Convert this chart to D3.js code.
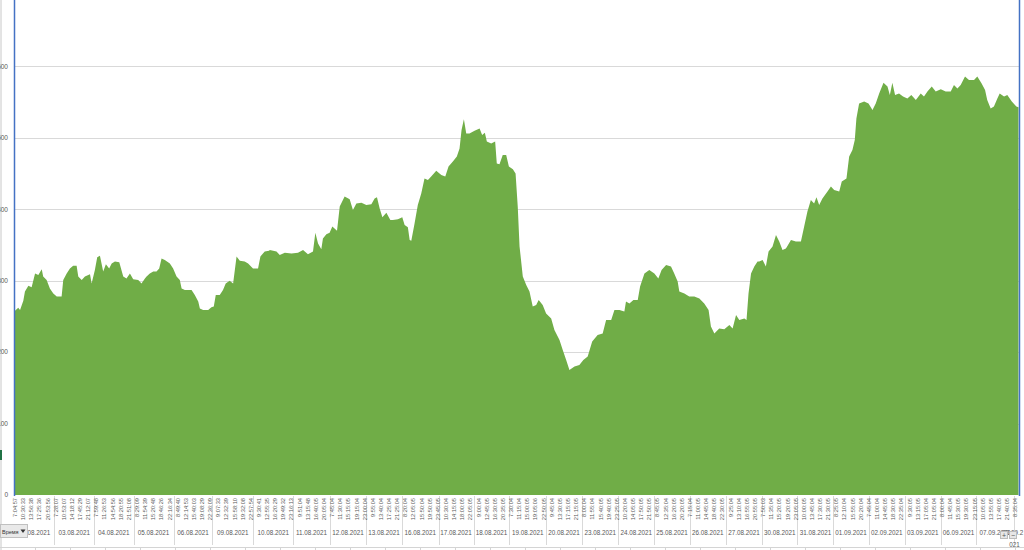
<!DOCTYPE html>
<html>
<head>
<meta charset="utf-8">
<script src="https://cdn.jsdelivr.net/npm/d3@7/dist/d3.min.js"></script>
<style>
  html, body { margin: 0; padding: 0; background: #fff; }
  svg { display: block; font-family: "Liberation Sans", Arial, sans-serif; }
</style>
</head>
<body>
<svg id="chart" width="1024" height="550"></svg>
<script>
// ---------------- DATA ----------------
const dates = ["02.08.2021","03.08.2021","04.08.2021","05.08.2021","06.08.2021","09.08.2021","10.08.2021",
  "11.08.2021","12.08.2021","13.08.2021","16.08.2021","17.08.2021","18.08.2021","19.08.2021","20.08.2021",
  "23.08.2021","24.08.2021","25.08.2021","26.08.2021","27.08.2021","30.08.2021","31.08.2021","01.09.2021",
  "02.09.2021","03.09.2021","06.09.2021","07.09.2021","08.09.2021"];
// observation number at which each day starts
const dayStart = [0,217,438,656,878,1091,1318,1539,1742,1944,2141,2344,2538,2736,2939,3138,3339,3538,3733,
  3934,4133,4330,4529,4723,4924,5123,5320,5528];
const lastObs = 5553;
const tickStep = 45; // a time label every 45 observations
const timeLabels = [
  "7:04:57","10:30:33","13:56:38","17:25:36","20:53:56",
  "7:28:07","10:53:07","14:18:12","17:45:29","21:12:07",
  "7:59:48","11:26:53","14:54:56","18:20:55","21:51:08",
  "8:29:09","11:54:39","15:20:48","18:46:26","22:16:34",
  "8:49:40","12:14:53","15:40:03","19:08:29","22:36:09",
  "9:07:33","12:32:39","15:58:10","19:32:08","22:57:54",
  "9:30:41","12:55:35","16:20:29","19:49:32","23:16:13",
  "9:51:04","13:15:48","16:40:05","20:05:04",
  "7:45:04","11:30:04","15:15:05","19:15:04","23:00:04",
  "9:55:04","13:40:04","17:25:04","21:25:04",
  "8:20:04","12:05:05","15:50:04","19:50:05","23:45:05",
  "10:30:04","14:15:05","18:00:05","22:05:05",
  "9:00:04","12:45:05","16:30:05","20:35:05",
  "7:30:04","11:15:04","15:00:05","19:05:06","22:50:05",
  "9:45:04","13:30:05","17:15:05","21:15:05",
  "8:00:04","11:55:04","15:40:05","19:40:05","23:25:05",
  "10:20:04","14:05:05","17:50:05","21:50:05",
  "8:45:05","12:35:04","16:20:05","20:20:05",
  "7:15:04","11:00:05","14:45:04","18:40:05","22:30:05",
  "9:25:04","13:10:04","16:55:05","20:55:05",
  "7:50:03","11:35:04","15:20:05","19:20:05","23:05:05",
  "10:00:05","13:45:04","17:30:05","21:30:05",
  "8:25:05","12:10:04","15:55:05","20:20:04",
  "7:45:04","11:00:04","14:45:05","18:30:05","22:35:04",
  "9:30:05","13:15:05","17:05:04","21:05:04",
  "8:00:04","11:45:04","15:30:05","19:30:05","23:15:05",
  "10:05:05","13:55:05","17:40:05","21:40:05",
  "8:35:04"
];
const yTicks = [0,100,200,300,400,500,600];
const yMax = 700;

const obsIndex = [
  0,18,28,46,55,74,92,111,129,148,156,175,193,212,231,258,267,286,304,322,341,350,369,387,415,424,442,455,470,488,
  503,521,535,553,577,599,617,636,654,682,700,719,728,746,765,783,798,811,829,857,875,894,912,922,940,958,977,995,1014,1023,
  1041,1069,1087,1100,1111,1133,1151,1166,1188,1207,1226,1244,1271,1290,1317,1345,1358,1382,1406,1410,1447,1465,1493,1530,1566,1594,1621,1649,1662,1677,
  1695,1704,1723,1741,1756,1782,1797,1824,1852,1870,1889,1917,1944,1972,1990,2003,2018,2033,2055,2077,2091,2119,2143,2156,2174,2184,2193,2211,2229,2248,
  2266,2285,2303,2331,2359,2381,2399,2423,2445,2460,2471,2484,2497,2515,2543,2571,2585,2600,2611,2635,2657,2666,2681,2699,2718,2733,2755,2770,2782,2792,
  2810,2829,2847,2865,2884,2898,2920,2939,2967,2985,3013,3031,3050,3068,3096,3123,3145,3169,3194,3224,3252,3271,3299,3317,3345,3372,3381,3400,3422,3446,
  3459,3483,3510,3538,3560,3578,3603,3630,3648,3667,3676,3704,3731,3759,3787,3814,3838,3851,3870,3897,3925,3953,3971,3990,4008,4036,4048,4059,4073,4091,
  4109,4118,4137,4155,4170,4192,4211,4229,4247,4266,4294,4321,4349,4367,4385,4404,4422,4435,4450,4468,4496,4515,4533,4561,4575,4601,4616,4634,4647,4656,
  4671,4699,4723,4745,4763,4782,4806,4828,4841,4855,4870,4892,4914,4938,4960,4985,5012,5030,5049,5073,5095,5123,5150,5178,5196,5215,5233,5257,5279,5307,
  5325,5349,5368,5380,5399,5417,5436,5449,5473,5491,5516,5541,5553
];
const price = [
  258,262,259,272,285,293,291,310,308,316,306,301,289,282,278,278,301,310,317,321,321,306,301,306,309,296,315,333,335,313,
  323,317,324,327,326,306,303,310,302,301,296,303,306,310,313,313,317,331,329,324,317,306,301,289,287,287,287,280,271,261,
  259,259,263,264,280,280,287,296,300,296,334,328,327,324,317,317,334,341,342,343,341,336,339,338,339,343,337,341,367,352,
  344,359,365,367,376,370,404,418,414,399,408,409,406,407,415,417,401,389,395,385,385,386,389,378,375,357,356,380,406,422,
  443,441,446,454,448,446,460,467,474,485,511,526,506,506,510,513,504,507,495,492,495,464,463,476,476,460,456,450,404,348,
  306,294,285,264,266,273,266,254,247,231,217,203,189,175,180,182,189,194,215,224,226,245,245,259,259,257,271,268,273,273,
  292,310,315,310,303,315,322,320,310,299,285,282,278,278,275,268,259,236,226,233,232,238,233,252,245,247,245,282,310,320,
  327,327,329,320,341,348,364,355,343,345,357,355,355,376,397,413,408,417,406,415,425,432,427,425,439,443,474,483,497,527,
  548,551,548,539,548,562,577,572,560,577,560,562,558,555,560,553,562,558,565,572,565,568,565,565,574,569,574,586,581,581,
  586,576,567,553,541,544,555,562,558,560,551,544,543
];

// ---------------- CHART ----------------
const svg = d3.select("#chart");
const W = 1024, H = 550;
const plotL = 15, plotR = 1018.5, plotB = 495, plotT = -5;
const green = "#70AD47", grid = "#d9d9d9", txt = "#595959", blue = "#4472C4";

const x = d3.scaleLinear().domain([0, lastObs]).range([plotL, plotR]);
const y = d3.scaleLinear().domain([0, yMax]).range([plotB, plotT]);

// chart border line at left
svg.append("line").attr("x1", 1).attr("x2", 1).attr("y1", 0).attr("y2", H)
  .attr("stroke", "#c8c8c8").attr("stroke-width", 1);
svg.append("rect").attr("x", 0).attr("y", 450).attr("width", 2).attr("height", 10).attr("fill", "#217346");

// gridlines
svg.append("g").selectAll("line").data(yTicks.filter(d => d > 0)).join("line")
  .attr("x1", plotL - 1).attr("x2", plotR + 1)
  .attr("y1", d => Math.round(y(d)) + 0.5).attr("y2", d => Math.round(y(d)) + 0.5)
  .attr("stroke", grid).attr("stroke-width", 1);

// y labels (clipped by page edge)
svg.append("g").selectAll("text").data(yTicks).join("text")
  .attr("x", 8).attr("y", d => y(d)).attr("dy", "0.35em")
  .attr("text-anchor", "end").attr("font-size", 6.5).attr("fill", txt)
  .text(d => d);

// area
const series = obsIndex.map((o, i) => ({ o, v: price[i] }));
const area = d3.area().x(d => x(d.o)).y0(y(0)).y1(d => y(d.v)).curve(d3.curveLinear);
svg.append("path").datum(series).attr("d", area).attr("fill", green);

// blue vertical lines at plot edges
svg.append("line").attr("x1", plotL - 0.5).attr("x2", plotL - 0.5).attr("y1", 0).attr("y2", plotB + 1)
  .attr("stroke", blue).attr("stroke-width", 1.5);
svg.append("line").attr("x1", plotR + 1).attr("x2", plotR + 1).attr("y1", 0).attr("y2", plotB + 1)
  .attr("stroke", blue).attr("stroke-width", 1.5);

// day separators
svg.append("g").selectAll("line").data(dayStart.slice(1)).join("line")
  .attr("x1", d => Math.round(x(d)) + 0.5).attr("x2", d => Math.round(x(d)) + 0.5)
  .attr("y1", plotB + 1).attr("y2", 545)
  .attr("stroke", grid).attr("stroke-width", 1);

// time labels
svg.append("g").selectAll("text").data(timeLabels).join("text")
  .attr("transform", (d, i) => `translate(${x(i * tickStep)},${plotB + 3}) rotate(-90)`)
  .attr("text-anchor", "end").attr("dy", "0.35em")
  .attr("font-size", 5.7).attr("fill", txt)
  .text(d => d);

// date labels
const dayEnd = dayStart.slice(1).concat([lastObs]);
const dateG = svg.append("g");
dates.forEach((d, i) => {
  const mid = (dayStart[i] + dayEnd[i]) / 2;
  if (i < dates.length - 1) {
    dateG.append("text").attr("x", x(mid)).attr("y", 535)
      .attr("text-anchor", "middle").attr("font-size", 6.3).attr("fill", txt).text(d);
  } else {
    const t = dateG.append("text").attr("font-size", 6.3).attr("fill", txt);
    t.append("tspan").attr("x", x(mid) - 14).attr("y", 535).text(d.slice(0, 7));
    t.append("tspan").attr("x", x(mid) - 7).attr("y", 547).text(d.slice(7));
  }
});

// spreadsheet line below chart
svg.append("line").attr("x1", 0).attr("x2", W).attr("y1", 547.5).attr("y2", 547.5)
  .attr("stroke", "#d4d4d4").attr("stroke-width", 1);
svg.append("g").selectAll("line").data(d3.range(35, W, 35)).join("line")
  .attr("x1", d => d + 0.5).attr("x2", d => d + 0.5).attr("y1", 547).attr("y2", 550)
  .attr("stroke", "#d4d4d4");

// "Время" field button
const btn = svg.append("g");
btn.append("rect").attr("x", 0.5).attr("y", 524.5).attr("width", 27).attr("height", 13)
  .attr("fill", "#e9e9e9").attr("stroke", "#c0c0c0");
btn.append("text").attr("x", 2).attr("y", 533.5).attr("font-size", 5.5).attr("fill", "#333").text("Время");
btn.append("path").attr("d", "M20.5,529.5 L25.5,529.5 L23,533 Z").attr("fill", "#333");

// +/- buttons
const pm = svg.append("g");
[["+", 1000], ["−", 1009]].forEach(([s, bx]) => {
  pm.append("rect").attr("x", bx + 0.5).attr("y", 531.5).attr("width", 7).attr("height", 7)
    .attr("fill", "#e6e6e6").attr("stroke", "#bcbcbc");
  pm.append("text").attr("x", bx + 4).attr("y", 537.5).attr("text-anchor", "middle")
    .attr("font-size", 7).attr("fill", "#555").text(s);
});
</script>
</body>
</html>
